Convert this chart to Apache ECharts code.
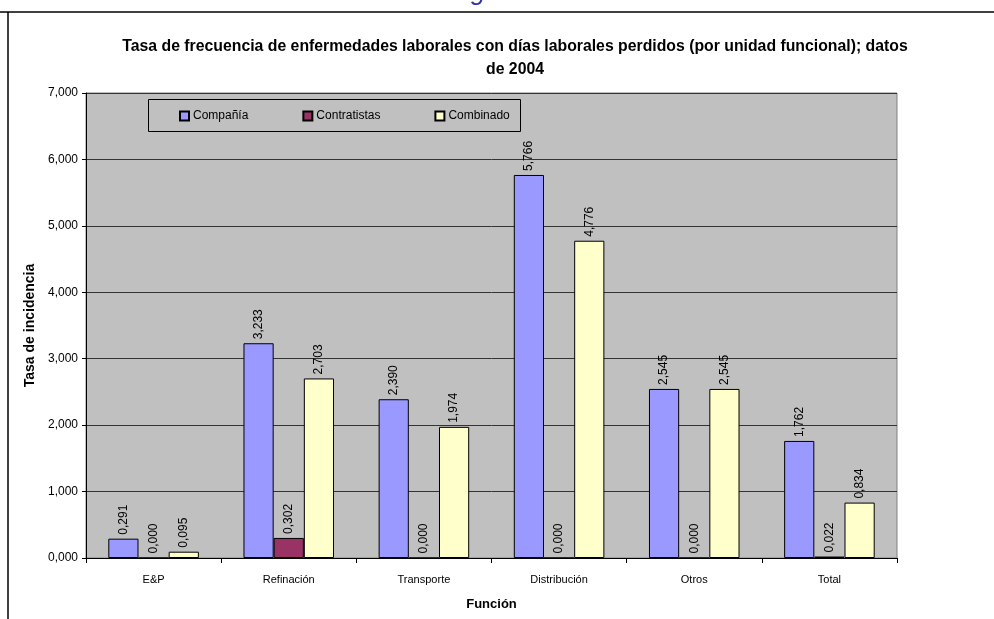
<!DOCTYPE html>
<html>
<head>
<meta charset="utf-8">
<script src="https://cdn.jsdelivr.net/npm/echarts@6/dist/echarts.min.js"></script>
<style>html,body{margin:0;padding:0;background:#fff;}#c{width:994px;height:619px;}</style>
</head>
<body>
<div id="c"></div>
<script>
const categories = ['E&P', 'Refinación', 'Transporte', 'Distribución', 'Otros', 'Total'];
const companiaValues = [0.291, 3.233, 2.390, 5.766, 2.545, 1.762];
const contratistasValues = [0.000, 0.302, 0.000, 0.000, 0.000, 0.022];
const combinadoValues = [0.095, 2.703, 1.974, 4.776, 2.545, 0.834];
const seriesNames = ['Compañía', 'Contratistas', 'Combinado'];
const yTicks = [0, 1, 2, 3, 4, 5, 6, 7];

const FONT = "'Liberation Sans', Arial, sans-serif";
const fmt = v => v.toFixed(3).replace('.', ',');

const chart = echarts.init(document.getElementById('c'));
const colors = ['#9999FF', '#993366', '#FFFFCC'];
const datas = [companiaValues, contratistasValues, combinadoValues];

chart.setOption({
  animation: false,
  textStyle: { fontFamily: FONT },
  title: {
    text: 'Tasa de frecuencia de enfermedades laborales con días laborales perdidos (por unidad funcional); datos\nde 2004',
    left: 510, top: 30, textAlign: 'center',
    textStyle: { fontFamily: FONT, fontSize: 15.8, fontWeight: 'bold', color: '#000', lineHeight: 23 }
  },
  legend: {
    data: seriesNames,
    left: 179, top: 110, padding: 0, z: 20,
    itemWidth: 9, itemHeight: 9, itemGap: 54,
    textStyle: { fontFamily: FONT, fontSize: 12, color: '#000', padding: [0, 0, 0, -1] },
    icon: 'rect'
  },
  grid: {
    left: 86, right: 97, top: 93, bottom: 61,
    show: true, backgroundColor: '#C0C0C0', borderColor: '#808080', borderWidth: 1
  },
  xAxis: {
    type: 'category', data: categories,
    name: 'Función', nameLocation: 'middle', nameGap: 40,
    nameTextStyle: { fontFamily: FONT, fontSize: 13, fontWeight: 'bold', color: '#000' },
    axisLine: { lineStyle: { color: '#000', width: 1 } },
    axisTick: { show: true, alignWithLabel: false, length: 5, lineStyle: { color: '#000' } },
    axisLabel: { fontFamily: FONT, fontSize: 11, color: '#000', margin: 16 }
  },
  yAxis: {
    type: 'value', min: 0, max: 7, interval: 1,
    name: 'Tasa de incidencia', nameLocation: 'middle', nameGap: 42, nameRotate: 90,
    nameTextStyle: { fontFamily: FONT, fontSize: 14, fontWeight: 'bold', color: '#000' },
    axisLine: { show: true, lineStyle: { color: '#000', width: 1 } },
    axisTick: { show: true, length: 4, lineStyle: { color: '#000' } },
    axisLabel: { fontFamily: FONT, fontSize: 12, color: '#000', margin: 8, formatter: v => fmt(v) },
    splitLine: { show: true, lineStyle: { color: '#333', width: 1 } }
  },
  graphic: [
    { type: 'line', shape: { x1: 0, y1: 12, x2: 994, y2: 12 }, style: { stroke: '#000', lineWidth: 1.5 }, z: 10 },
    { type: 'line', shape: { x1: 8, y1: 12, x2: 8, y2: 619 }, style: { stroke: '#000', lineWidth: 1.5 }, z: 10 },
    { type: 'rect', shape: { x: 148.5, y: 99.5, width: 372, height: 32 }, style: { fill: '#C0C0C0', stroke: '#000', lineWidth: 1 }, z: 5 },
    { type: 'text', style: { text: 'Figura 6', x: 497, y: 6, textAlign: 'center', textVerticalAlign: 'bottom', font: "italic 26px 'Liberation Sans', Arial, sans-serif", fill: '#3333AA' }, z: 10 }
  ],
  series: seriesNames.map((n, i) => ({
    name: n, type: 'bar', data: datas[i],
    barGap: '0%', barCategoryGap: '33%',
    itemStyle: { color: colors[i], borderColor: '#000', borderWidth: 1 },
    label: {
      show: true, position: 'top', rotate: 90, align: 'left', verticalAlign: 'middle', distance: 4,
      fontFamily: FONT, fontSize: 12, color: '#000',
      formatter: p => fmt(p.value)
    }
  }))
});
</script>
</body>
</html>
